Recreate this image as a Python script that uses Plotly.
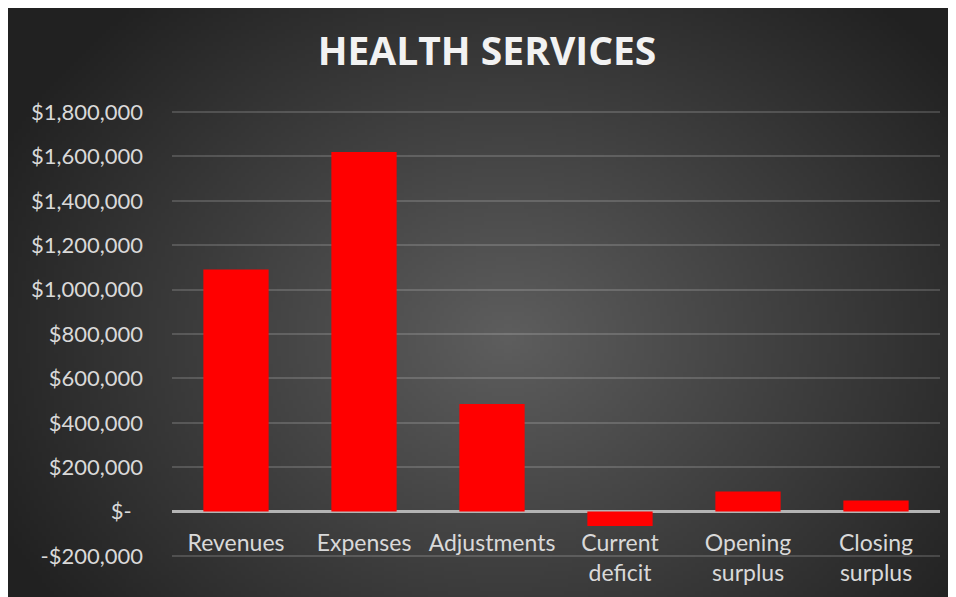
import zlib, struct, base64
import numpy as np
import plotly.graph_objects as go

categories = ["Revenues", "Expenses", "Adjustments", "Current<br>deficit", "Opening<br>surplus", "Closing<br>surplus"]
values = [1090000, 1620000, 485000, -65000, 90000, 50000]
tick_vals = [-200000, 0, 200000, 400000, 600000, 800000, 1000000, 1200000, 1400000, 1600000, 1800000]
tick_text = ["-$200,000", "$-\u00a0\u00a0", "$200,000", "$400,000", "$600,000", "$800,000",
             "$1,000,000", "$1,200,000", "$1,400,000", "$1,600,000", "$1,800,000"]

# radial gradient background image (decoration only)
W, H = 240, 150
yy, xx = np.mgrid[0:H, 0:W]
cx, cy = W * 0.52, H * 0.55
d = np.sqrt(((xx - cx) / (W * 0.62)) ** 2 + ((yy - cy) / (H * 0.80)) ** 2)
v = np.clip(94 - 64 * d, 33, 96).astype(np.uint8)

def make_png(arr):
    h, w = arr.shape
    raw = b"".join(b"\x00" + arr[i].tobytes() for i in range(h))
    def chunk(t, data):
        c = struct.pack(">I", len(data)) + t + data
        return c + struct.pack(">I", zlib.crc32(t + data) & 0xffffffff)
    sig = b"\x89PNG\r\n\x1a\n"
    ihdr = struct.pack(">IIBBBBB", w, h, 8, 0, 0, 0, 0)
    return sig + chunk(b"IHDR", ihdr) + chunk(b"IDAT", zlib.compress(raw, 9)) + chunk(b"IEND", b"")

bg_uri = "data:image/png;base64," + base64.b64encode(make_png(v)).decode()

FIG_W, FIG_H = 956, 597
ML, MR, MT, MB = 164, 24, 101, 46
PW, PH = FIG_W - ML - MR, FIG_H - MT - MB
Y_LO, Y_HI = -213500, 1813500
zero_pos = -Y_LO / (Y_HI - Y_LO)

fig = go.Figure()
fig.add_trace(go.Bar(
    x=categories, y=values,
    marker=dict(color="#ff0000", line=dict(width=0)),
    hoverinfo="skip",
))

fig.add_layout_image(dict(
    source=bg_uri, xref="paper", yref="paper",
    x=-ML / PW, y=(FIG_H - MB) / PH,
    sizex=FIG_W / PW, sizey=FIG_H / PH,
    xanchor="left", yanchor="top", sizing="stretch", layer="below",
))

fig.update_layout(
    width=FIG_W, height=FIG_H,
    margin=dict(l=ML, r=MR, t=MT, b=MB, pad=0),
    paper_bgcolor="#2a2a2a", plot_bgcolor="rgba(0,0,0,0)",
    bargap=0.49,
    showlegend=False,
    font=dict(family="Lato, 'Open Sans', sans-serif", color="#d9d9d9", size=22),
    title=dict(
        text="<b>HEALTH SERVICES</b>",
        x=479 / FIG_W, xanchor="center",
        y=1 - 43 / FIG_H, yanchor="middle",
        font=dict(family="'Open Sans', sans-serif", size=39, color="#f2f2f2"),
    ),
    xaxis=dict(
        anchor="free", position=zero_pos,
        showline=False, showgrid=False, zeroline=False,
        ticks="", tickfont=dict(size=23, color="#d9d9d9"),
        ticklabelstandoff=15,
        fixedrange=True,
    ),
    yaxis=dict(
        range=[Y_LO, Y_HI],
        tickvals=tick_vals, ticktext=tick_text,
        showgrid=True, gridcolor="rgba(255,255,255,0.16)", gridwidth=1.5,
        zeroline=True, zerolinecolor="#b4b4b4", zerolinewidth=2.5,
        showline=False, ticks="",
        tickfont=dict(size=22, color="#d9d9d9"),
        ticklabelstandoff=28,
        fixedrange=True,
    ),
)

fig.write_html("out.html")
